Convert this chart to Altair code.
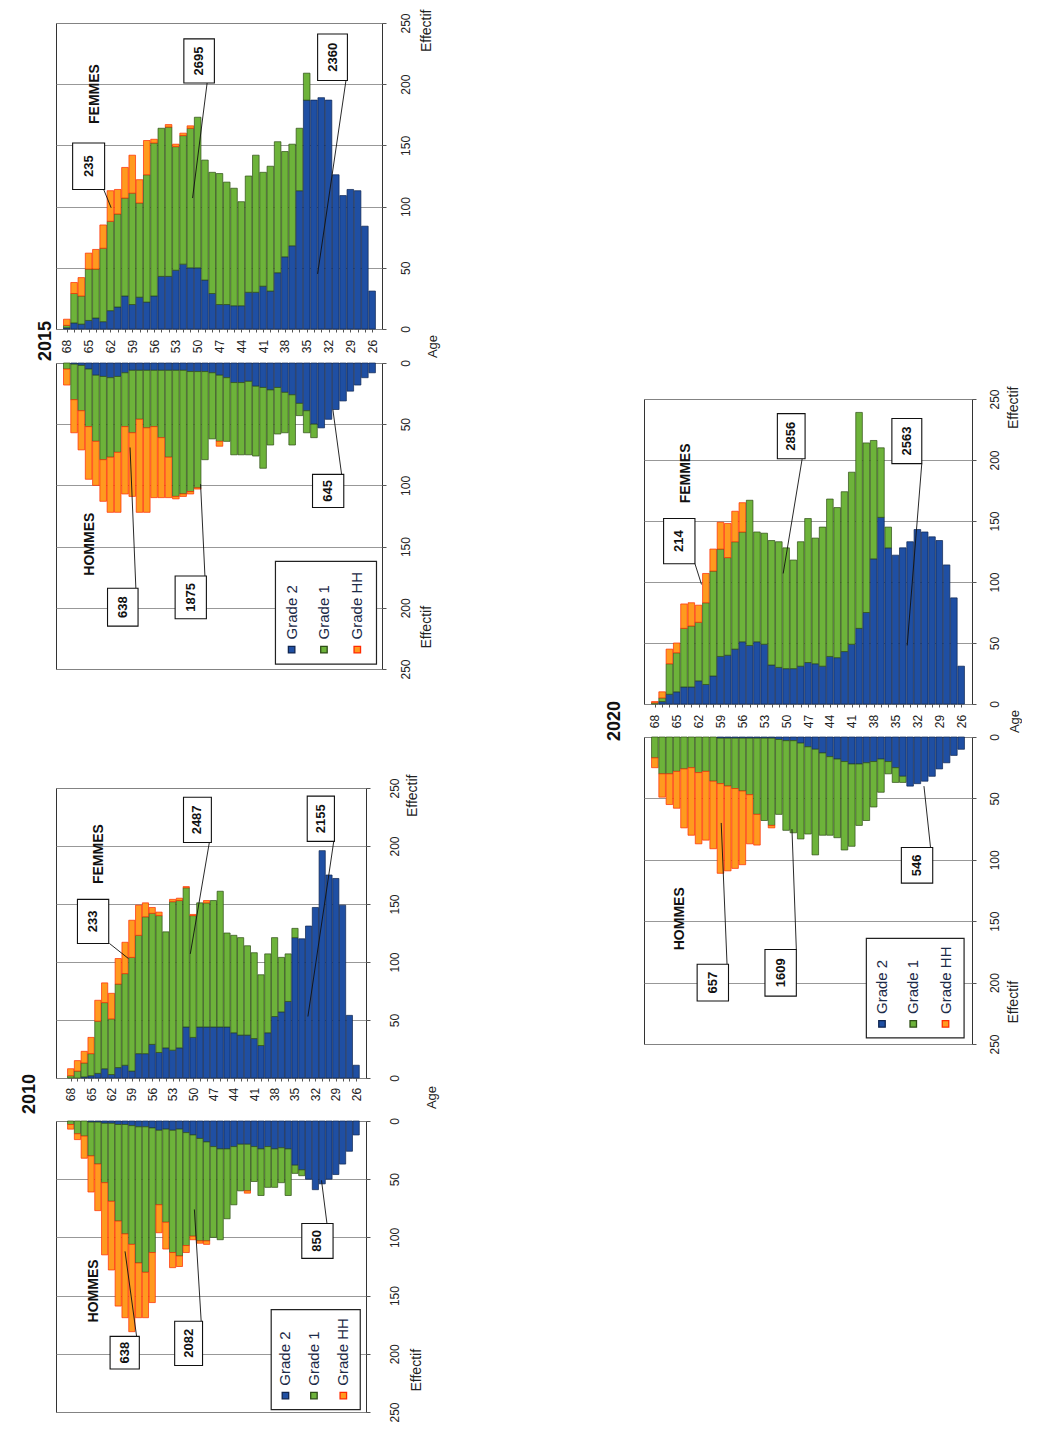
import altair as alt
import pandas as pd

AGES = list(range(68, 25, -1))  # 68 ... 26
GRADES = ["Grade 2", "Grade 1", "Grade HH"]
FILL_COLORS = ["#1f4fa3", "#6db33a", "#ff9a1f"]
EDGE_COLORS = ["#0f2550", "#2e4d16", "#ff2a00"]
EFFECTIF_TICKS = [0, 50, 100, 150, 200, 250]

# ---------------- data (ages 68 -> 26) ----------------
F2010_G2 = [0, 0, 1, 2, 4, 8, 3, 9, 11, 6, 21, 21, 29, 22, 26, 24, 26, 44, 35, 44,
            44, 44, 44, 44, 39, 37, 37, 34, 28, 39, 53, 57, 66, 121, 120, 131, 147, 196, 175, 172,
            149, 54, 11]
F2010_G1 = [2, 6, 12, 19, 45, 57, 48, 72, 79, 98, 102, 118, 113, 118, 100, 128, 127, 120, 105, 107,
            107, 109, 117, 81, 84, 84, 77, 74, 61, 68, 68, 47, 41, 8, 0, 0, 0, 0, 0, 0,
            0, 0, 0]
F2010_HH = [6, 9, 10, 14, 18, 17, 22, 22, 27, 32, 26, 12, 5, 3, 0, 2, 2, 1, 1, 0,
            2, 0, 0, 0, 0, 0, 0, 0, 0, 0, 0, 0, 0, 0, 0, 0, 0, 0, 0, 0,
            0, 0, 0]
M2010_G2 = [0, 0, 0, 1, 1, 2, 2, 3, 3, 4, 5, 5, 6, 8, 7, 8, 7, 10, 12, 15,
            18, 22, 24, 24, 22, 20, 20, 22, 24, 22, 24, 23, 24, 38, 42, 50, 59, 54, 50, 46,
            37, 26, 12]
M2010_G1 = [3, 11, 13, 29, 36, 51, 67, 83, 94, 102, 117, 125, 107, 64, 80, 105, 109, 97, 87, 88,
            85, 78, 78, 60, 50, 40, 40, 30, 40, 35, 33, 30, 40, 7, 5, 0, 0, 0, 0, 0,
            0, 0, 0]
M2010_HH = [4, 5, 19, 31, 40, 62, 59, 73, 72, 75, 47, 39, 43, 24, 23, 13, 9, 6, 3, 2,
            3, 0, 0, 0, 0, 0, 2, 0, 0, 0, 0, 0, 0, 0, 0, 0, 0, 0, 0, 0,
            0, 0, 0]

F2015_G2 = [1, 5, 4, 7, 9, 6, 15, 18, 27, 20, 26, 22, 27, 43, 43, 48, 53, 50, 50, 40,
            29, 20, 20, 19, 19, 30, 30, 35, 31, 46, 59, 68, 113, 187, 187, 189, 187, 126, 109, 114,
            113, 84, 31]
F2015_G1 = [2, 24, 23, 42, 40, 60, 73, 76, 80, 91, 77, 104, 125, 121, 122, 101, 105, 114, 123, 98,
            99, 107, 100, 96, 85, 95, 112, 93, 102, 107, 86, 83, 51, 22, 0, 0, 0, 0, 0, 0,
            0, 0, 0]
F2015_HH = [5, 9, 15, 13, 16, 19, 25, 20, 25, 31, 19, 28, 3, 0, 2, 2, 2, 2, 0, 0,
            0, 0, 0, 0, 0, 0, 0, 0, 0, 0, 0, 0, 0, 0, 0, 0, 0, 0, 0, 0,
            0, 0, 0]
M2015_G2 = [0, 1, 2, 5, 10, 11, 12, 11, 8, 6, 6, 6, 6, 6, 6, 6, 6, 7, 7, 7,
            8, 10, 12, 16, 16, 15, 19, 20, 22, 20, 24, 26, 33, 39, 50, 53, 46, 38, 31, 23,
            18, 12, 8]
M2015_G1 = [5, 29, 37, 47, 54, 68, 65, 62, 44, 51, 40, 47, 46, 55, 71, 103, 101, 98, 95, 72,
            54, 54, 52, 59, 59, 60, 57, 66, 45, 38, 33, 41, 10, 18, 11, 0, 0, 0, 0, 0,
            0, 0, 0]
M2015_HH = [13, 27, 32, 43, 36, 34, 45, 49, 55, 52, 76, 69, 58, 49, 33, 2, 2, 2, 1, 0,
            0, 4, 0, 0, 0, 0, 0, 0, 0, 0, 0, 0, 0, 0, 0, 0, 0, 0, 0, 0,
            0, 0, 0]

F2020_G2 = [0, 2, 8, 10, 14, 14, 19, 16, 23, 39, 40, 45, 51, 48, 51, 49, 32, 30, 29, 29,
            31, 34, 33, 31, 39, 38, 43, 49, 62, 75, 119, 153, 128, 122, 128, 133, 143, 141, 137, 134,
            114, 87, 31]
F2020_G1 = [1, 3, 25, 32, 48, 50, 48, 67, 86, 88, 80, 88, 90, 119, 90, 91, 102, 103, 99, 89,
            102, 118, 103, 114, 129, 123, 131, 141, 177, 139, 97, 57, 17, 0, 0, 0, 0, 0, 0, 0,
            0, 0, 0]
F2020_HH = [1, 5, 12, 8, 20, 19, 14, 24, 18, 22, 28, 25, 24, 0, 0, 0, 0, 0, 0, 0,
            0, 0, 0, 0, 0, 0, 0, 0, 0, 0, 0, 0, 0, 0, 0, 0, 0, 0, 0, 0,
            0, 0, 0]
M2020_G2 = [0, 0, 0, 0, 0, 0, 0, 0, 0, 1, 1, 1, 1, 1, 1, 1, 1, 2, 3, 3,
            5, 8, 10, 13, 16, 18, 20, 22, 22, 21, 20, 18, 20, 25, 32, 40, 38, 36, 32, 26,
            21, 15, 10]
M2020_G1 = [17, 30, 30, 28, 26, 25, 29, 28, 36, 37, 39, 41, 43, 46, 62, 67, 71, 61, 73, 75,
            78, 71, 86, 67, 64, 64, 72, 67, 50, 47, 37, 27, 10, 12, 5, 0, 0, 0, 0, 0,
            0, 0, 0]
M2020_HH = [8, 19, 25, 30, 48, 55, 58, 56, 55, 73, 69, 65, 60, 40, 25, 0, 2, 0, 0, 0,
            0, 0, 0, 0, 0, 0, 0, 0, 0, 0, 0, 0, 0, 0, 0, 0, 0, 0, 0, 0,
            0, 0, 0]

# total labels shown in boxes
LABELS = {
    "2010": {"F": ["233", "2487", "2155"], "M": ["638", "2082", "850"]},
    "2015": {"F": ["235", "2695", "2360"], "M": ["638", "1875", "645"]},
    "2020": {"F": ["214", "2856", "2563"], "M": ["657", "1609", "546"]},
}

# annotation placement (age, effectif): box (a0, a1, v0, v1), leader (a_from, v_from, a_to, v_to)
ANN_BOXES = {
    "2010": {"F": [(67.0, 62.4, 116, 154), (51.4, 47.3, 203, 242), (33.2, 29.2, 204, 243)],
             "M": [(62.2, 57.9, 185, 213), (52.7, 48.6, 172, 210), (34.0, 29.4, 88, 118)]},
    "2015": {"F": [(67.2, 62.8, 114, 152), (51.9, 47.7, 201, 237), (33.5, 29.4, 203, 241)],
             "M": [(62.4, 58.2, 184, 215), (53.1, 48.8, 174, 209), (34.2, 29.9, 91, 118)]},
    "2020": {"F": [(66.8, 62.5, 115, 152), (51.2, 47.4, 201, 238), (35.5, 31.4, 197, 234)],
             "M": [(62.2, 57.9, 185, 215), (52.9, 48.6, 173, 211), (34.2, 29.9, 90, 119)]},
}
ANN_LINES = {
    "2010": {"F": [(62.3, 116, 59.5, 103), (47.6, 203, 50.4, 107), (29.3, 204, 33.1, 53)],
             "M": [(58.3, 185, 60.0, 112), (48.8, 172, 49.8, 76), (30.3, 88, 31.1, 51)]},
    "2015": {"F": [(63.0, 115, 61.9, 99), (48.7, 201, 50.7, 107), (29.6, 203, 33.5, 45)],
             "M": [(58.5, 184, 59.3, 69), (49.0, 174, 49.6, 99), (30.2, 91, 31.4, 38)]},
    "2020": {"F": [(62.5, 115, 61.6, 98), (47.8, 201, 50.4, 107), (31.4, 197, 33.4, 48)],
             "M": [(58.1, 185, 58.9, 70), (48.6, 173, 49.2, 75), (30.2, 90, 31.1, 40)]},
}
SEX_LABEL_POS = {
    "2010": {"F": (63.8, 193), "M": (64.5, 146)},
    "2015": {"F": (64.1, 192), "M": (64.8, 148)},
    "2020": {"F": (63.7, 189), "M": (64.6, 148)},
}
# year title placed just left of the age axis (age, effectif)
YEAR_POS = {"2010": (74.0, -13.8), "2015": (70.8, -9.8), "2020": (73.4, -13.9)}
LEGEND_BOX = {"2010": (38.5, 25.4, 162, 248), "2015": (39.3, 25.4, 162, 246), "2020": (39.0, 25.6, 164, 245)}

GEOM = {
    "2015": dict(w=326, hF=306, hM=306, gap=34, bar=6.6, xdom=[25.33, 68.8], age_pad=14,
                 age_tx=376, age_ty=17, ylab=19, effFx=44, effFy=-14, effMx=44, effMy=285),
    "2010": dict(w=310, hF=290, hM=291, gap=43, bar=6.2, xdom=[25.29, 69.42], age_pad=13,
                 age_tx=375, age_ty=19, ylab=24, effFx=46, effFy=-14, effMx=50, effMy=270),
    "2020": dict(w=328, hF=305, hM=307, gap=33, bar=6.6, xdom=[25.2, 68.8], age_pad=14,
                 age_tx=370, age_ty=17, ylab=18, effFx=41, effFy=-13, effMx=41, effMy=286),
}

FONT = "Liberation Sans"
FILL_SCALE = alt.Scale(domain=GRADES, range=FILL_COLORS)
EDGE_SCALE = alt.Scale(domain=GRADES, range=EDGE_COLORS)


def sex_chart(year, sex, g2, g1, hh):
    g = GEOM[year]
    rev = sex == "M"
    height = g["hF"] if sex == "F" else g["hM"]

    if sex == "F":
        xaxis = alt.Axis(values=AGES, labelExpr="(datum.value - 26) % 3 == 0 ? datum.label : ''",
                         labelAngle=270, labelAlign="center", labelBaseline="middle",
                         labelPadding=g["age_pad"], tickSize=3, grid=False, domain=False,
                         labelFlush=False, labelOverlap=False, labelBound=False,
                         titleAngle=270, titleAlign="center", titleBaseline="middle",
                         titleX=g["age_tx"], titleY=g["age_ty"], titleFontSize=13)
        yaxis = alt.Axis(orient="right", values=EFFECTIF_TICKS, labelAngle=270, labelAlign="center",
                         labelBaseline="middle", labelPadding=g["ylab"], tickSize=4, grid=True,
                         domain=False, labelFlush=False, labelOverlap=False,
                         titleAngle=270, titleAlign="right", titleBaseline="middle",
                         titleX=g["effFx"], titleY=g["effFy"], titleFontSize=14)
    else:
        xaxis = None
        yaxis = alt.Axis(orient="right", values=EFFECTIF_TICKS, labelAngle=270, labelAlign="center",
                         labelBaseline="middle", labelPadding=g["ylab"], tickSize=4, grid=True,
                         domain=False, labelFlush=False, labelOverlap=False,
                         titleAngle=270, titleAlign="left", titleBaseline="middle",
                         titleX=g["effMx"], titleY=g["effMy"], titleFontSize=14)

    xscale = alt.Scale(domain=g["xdom"], reverse=True, nice=False, zero=False)
    yscale = alt.Scale(domain=[0, 250], nice=False, reverse=rev)

    def X(f):
        return alt.X(f"{f}:Q", scale=xscale, axis=xaxis, title="Age")

    def Y(f, stack=None):
        return alt.Y(f"{f}:Q", scale=yscale, axis=yaxis, title="Effectif", stack=stack)

    rows = []
    for i, age in enumerate(AGES):
        for k, vals in enumerate((g2, g1, hh)):
            if vals[i] > 0:
                rows.append({"age": age, "grade": GRADES[k], "ord": k, "value": vals[i]})
    df = pd.DataFrame(rows)

    bars = alt.Chart(df).mark_bar(size=g["bar"], strokeWidth=0.7).encode(
        x=X("age"),
        y=Y("value", stack="zero"),
        fill=alt.Fill("grade:N", scale=FILL_SCALE, legend=None),
        stroke=alt.Stroke("grade:N", scale=EDGE_SCALE, legend=None),
        order=alt.Order("ord:Q"),
    )

    boxes = ANN_BOXES[year][sex]
    bdf = pd.DataFrame({
        "a0": [b[0] for b in boxes], "a1": [b[1] for b in boxes],
        "v0": [b[2] for b in boxes], "v1": [b[3] for b in boxes],
        "label": LABELS[year][sex],
    })
    bdf["ac"] = (bdf["a0"] + bdf["a1"]) / 2
    bdf["vc"] = (bdf["v0"] + bdf["v1"]) / 2
    lines = ANN_LINES[year][sex]
    ldf = pd.DataFrame({
        "la0": [l[0] for l in lines], "lv0": [l[1] for l in lines],
        "la1": [l[2] for l in lines], "lv1": [l[3] for l in lines],
    })

    leaders = alt.Chart(ldf).mark_rule(color="#111", strokeWidth=0.9).encode(
        x=X("la0"), y=Y("lv0"), x2="la1", y2="lv1")
    rects = alt.Chart(bdf).mark_rect(fill="white", stroke="#111", strokeWidth=1.1).encode(
        x=X("a0"), x2="a1", y=Y("v0"), y2="v1")
    btext = alt.Chart(bdf).mark_text(angle=270, fontSize=13, fontWeight="bold", font=FONT,
                                     align="center", baseline="middle", color="#111").encode(
        x=X("ac"), y=Y("vc"), text="label:N")

    sp = SEX_LABEL_POS[year][sex]
    sdf = pd.DataFrame({"a": [sp[0]], "v": [sp[1]], "t": ["FEMMES" if sex == "F" else "HOMMES"]})
    stext = alt.Chart(sdf).mark_text(angle=270, fontSize=14, fontWeight="bold", font=FONT,
                                     align="center", baseline="middle", color="#111").encode(
        x=X("a"), y=Y("v"), text="t:N")

    layers = [bars, leaders, rects, btext, stext]

    if sex == "F":
        yp = YEAR_POS[year]
        ydf = pd.DataFrame({"a": [yp[0]], "v": [yp[1]], "t": [year]})
        ytext = alt.Chart(ydf).mark_text(angle=270, fontSize=18, fontWeight="bold", font=FONT,
                                         align="center", baseline="middle", color="#111").encode(
            x=X("a"), y=Y("v"), text="t:N")
        layers.append(ytext)

    if sex == "M":
        a0, a1, v0, v1 = LEGEND_BOX[year]
        ldf2 = pd.DataFrame({"a0": [a0], "a1": [a1], "v0": [v0], "v1": [v1]})
        lbox = alt.Chart(ldf2).mark_rect(fill="white", stroke="#222", strokeWidth=1.2).encode(
            x=X("a0"), x2="a1", y=Y("v0"), y2="v1")
        fr = [0.16, 0.48, 0.81]
        ent = pd.DataFrame({
            "grade": GRADES,
            "a": [a0 + (a1 - a0) * f for f in fr],
            "vs": [v0 + (v1 - v0) * 0.86] * 3,
            "vt": [v0 + (v1 - v0) * 0.76] * 3,
        })
        sym = alt.Chart(ent).mark_square(size=42, strokeWidth=1.3, opacity=1).encode(
            x=X("a"), y=Y("vs"),
            fill=alt.Fill("grade:N", scale=FILL_SCALE, legend=None),
            stroke=alt.Stroke("grade:N", scale=EDGE_SCALE, legend=None))
        ltxt = alt.Chart(ent).mark_text(angle=270, fontSize=15, font=FONT, align="left",
                                        baseline="middle", color="#1b2a47").encode(
            x=X("a"), y=Y("vt"), text="grade:N")
        layers += [lbox, sym, ltxt]

    return alt.layer(*layers).properties(width=g["w"], height=height)


def spacer(w, h):
    return alt.Chart(pd.DataFrame({"s": [0]})).mark_point(opacity=0).encode(
        x=alt.X("s:Q", axis=None), y=alt.Y("s:Q", axis=None)
    ).properties(width=w, height=h, view=alt.ViewBackground(stroke="transparent"))


for arr in [F2010_G2, F2010_G1, F2010_HH, M2010_G2, M2010_G1, M2010_HH,
            F2015_G2, F2015_G1, F2015_HH, M2015_G2, M2015_G1, M2015_HH,
            F2020_G2, F2020_G1, F2020_HH, M2020_G2, M2020_G1, M2020_HH]:
    assert len(arr) == len(AGES)

f2010 = sex_chart("2010", "F", F2010_G2, F2010_G1, F2010_HH)
m2010 = sex_chart("2010", "M", M2010_G2, M2010_G1, M2010_HH)
f2015 = sex_chart("2015", "F", F2015_G2, F2015_G1, F2015_HH)
m2015 = sex_chart("2015", "M", M2015_G2, M2015_G1, M2015_HH)
f2020 = sex_chart("2020", "F", F2020_G2, F2020_G1, F2020_HH)
m2020 = sex_chart("2020", "M", M2020_G2, M2020_G1, M2020_HH)

left = alt.vconcat(
    f2015, spacer(10, GEOM["2015"]["gap"]), m2015, spacer(10, 119),
    f2010, spacer(10, GEOM["2010"]["gap"]), m2010,
    spacing=0, bounds="flush")
right = alt.vconcat(
    spacer(10, 376), f2020, spacer(10, GEOM["2020"]["gap"]), m2020,
    spacing=0, bounds="flush")

chart = alt.hconcat(left, right, spacing=165, bounds="full").properties(
    padding={"left": 12, "top": 0, "right": 0, "bottom": 0},
    background="white",
).configure(font=FONT).configure_view(
    stroke="#333", strokeWidth=1
).configure_axis(
    labelFont=FONT, titleFont=FONT, labelFontSize=12, titleFontWeight="normal",
    labelColor="#222", titleColor="#222", gridColor="#8c8c8c", gridWidth=0.9,
    tickColor="#555"
)

chart.save("out.html", embed_options={"renderer": "svg", "actions": False})
